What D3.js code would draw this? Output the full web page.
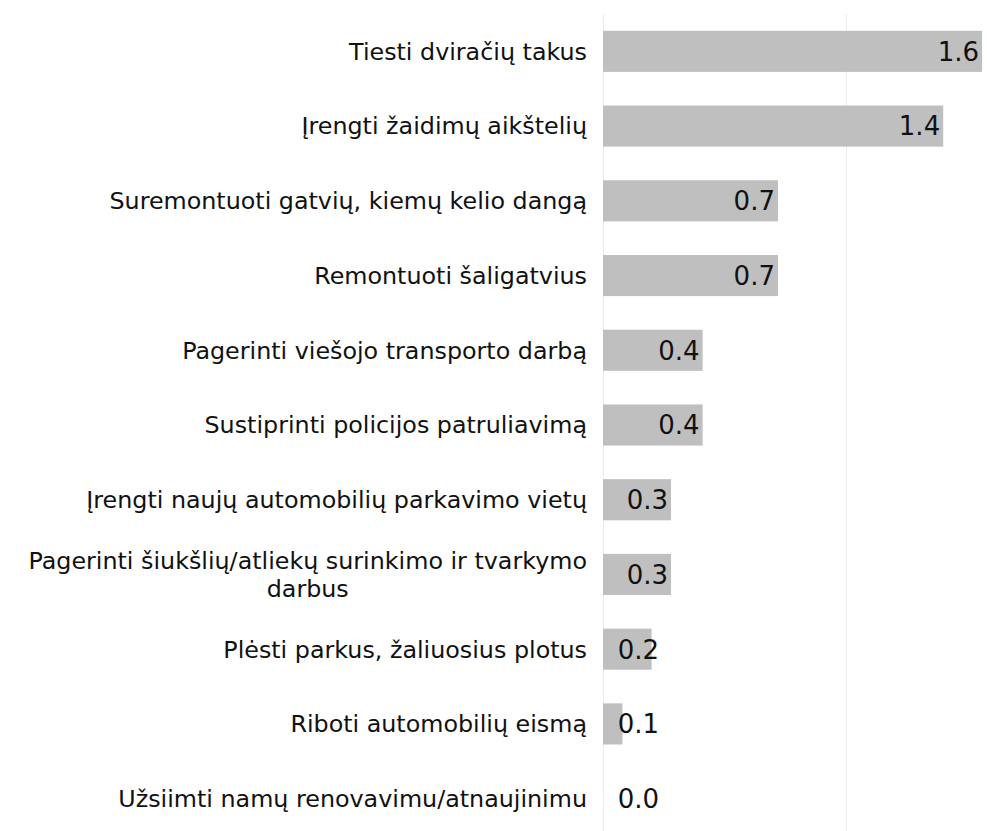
<!DOCTYPE html>
<html>
<head>
<meta charset="utf-8">
<script src="https://cdn.jsdelivr.net/npm/d3@7"></script>
<style>
  body { margin: 0; background: #fff; }
  svg { display: block; font-family: Verdana, "DejaVu Sans", sans-serif; }
</style>
</head>
<body>
<div id="chart"></div>
<script>
// categories, top to bottom
const categories = [
  "Tiesti dviračių takus",
  "Įrengti žaidimų aikštelių",
  "Suremontuoti gatvių, kiemų kelio dangą ",
  "Remontuoti šaligatvius",
  "Pagerinti viešojo transporto darbą ",
  "Sustiprinti policijos patruliavimą",
  "Įrengti naujų automobilių parkavimo vietų",
  "Pagerinti šiukšlių/atliekų surinkimo ir tvarkymo darbus",
  "Plėsti parkus, žaliuosius plotus ",
  "Riboti automobilių eismą",
  "Užsiimti namų renovavimu/atnaujinimu"
];

// bar values (labels show them rounded to one decimal)
const values = [1.56, 1.40, 0.72, 0.72, 0.41, 0.41, 0.28, 0.28, 0.20, 0.08, 0.00];

// gridline positions on the value axis
const gridTicks = [0, 1];

const width = 987, height = 831;
const margin = {top: 14, right: 0, bottom: -5, left: 603};

const svg = d3.select('#chart').append('svg')
  .attr('width', width)
  .attr('height', height);

const x = d3.scaleLinear() // 243px per unit
  .domain([0, 1.6])
  .range([margin.left, margin.left + 1.6 * 243]);

const y = d3.scaleBand()
  .domain(categories)
  .range([margin.top, height - margin.bottom])
  .paddingInner(0.45)
  .paddingOuter(0.225);

//gridlines
svg.append('g')
  .selectAll('line')
  .data(gridTicks)
  .join('line')
  .attr('x1', d => Math.round(x(d)) + 0.5)
  .attr('x2', d => Math.round(x(d)) + 0.5)
  .attr('y1', margin.top)
  .attr('y2', height)
  .attr('stroke', '#ebebeb')
  .attr('stroke-width', 1);

//bars
svg.append('g')
  .selectAll('rect')
  .data(values)
  .join('rect')
  .attr('x', x(0))
  .attr('y', (d, i) => y(categories[i]))
  .attr('width', d => x(d) - x(0))
  .attr('height', y.bandwidth())
  .attr('fill', '#bfbfbf');

//value labels, inside the end of the bar but never left of the axis
const fmt = d3.format('.1f');
const labelW = 42;
svg.append('g')
  .selectAll('text')
  .data(values)
  .join('text')
  .attr('x', d => Math.max(x(d) - 3, x(0) + 14 + labelW))
  .attr('y', (d, i) => y(categories[i]) + y.bandwidth() / 2)
  .attr('dy', '0.36em')
  .attr('text-anchor', 'end')
  .attr('font-size', '26px')
  .attr('fill', '#111')
  .text(d => fmt(d));

//category labels, wrapped when too long, right aligned to the axis
const labelRight = x(0) - 16;
const maxLabelW = 585;
const lineH = 28;

const catG = svg.append('g')
  .attr('font-size', '23.8px')
  .attr('fill', '#111');

categories.forEach((c, i) => {
  const cy = y(c) + y.bandwidth() / 2;
  const t = catG.append('text').attr('text-anchor', 'middle');

  // word wrap using the rendered width
  const words = c.trim().split(/\s+/);
  const lines = [];
  let line = [];
  const probe = catG.append('text');
  words.forEach(w => {
    line.push(w);
    probe.text(line.join(' '));
    if (probe.node().getComputedTextLength() > maxLabelW && line.length > 1) {
      line.pop();
      lines.push(line.join(' '));
      line = [w];
    }
  });
  lines.push(line.join(' '));

  const widths = lines.map(l => { probe.text(l); return probe.node().getComputedTextLength(); });
  probe.remove();
  const blockW = d3.max(widths);
  const cx = labelRight - blockW / 2;

  lines.forEach((l, j) => {
    t.append('tspan')
      .attr('x', cx)
      .attr('y', cy + (j - (lines.length - 1) / 2) * lineH)
      .attr('dy', '0.35em')
      .text(l);
  });
});
</script>
</body>
</html>
